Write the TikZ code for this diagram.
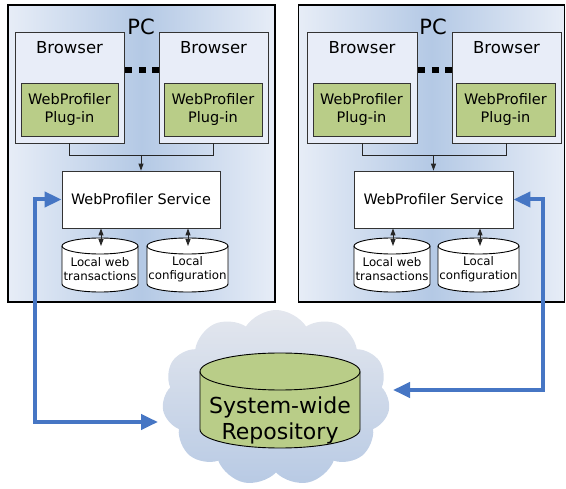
\documentclass[tikz,border=0pt]{standalone}
\usepackage{fontspec}
\setmainfont{DejaVu Sans}
\usetikzlibrary{arrows.meta,shapes.symbols}
\definecolor{pcedge}{RGB}{231,237,247}
\definecolor{pcmid}{RGB}{180,201,229}
\definecolor{brfill}{RGB}{232,237,248}
\definecolor{plug}{RGB}{185,205,136}
\definecolor{blu}{RGB}{70,118,196}
\definecolor{cloudtop}{RGB}{228,231,238}
\definecolor{cloudbot}{RGB}{184,202,228}
\newcommand\drawcyl[6]{%
 \filldraw[fill=#6, line width=0.9pt] (#1,#3+#5) -- (#1,#4-#5)
   arc[start angle=180,end angle=0,x radius={(#2-#1)/2},y radius=#5] -- (#2,#3+#5)
   arc[start angle=0,end angle=-180,x radius={(#2-#1)/2},y radius=#5] -- cycle;
 \draw[line width=0.9pt] (#1,#3+#5) arc[start angle=180,end angle=0,x radius={(#2-#1)/2},y radius=#5];}
\tikzset{
  pcbox/.style={draw=black, line width=1.6pt, left color=pcedge, right color=pcedge, middle color=pcmid, inner sep=0pt},
  brbox/.style={draw=black!80, line width=0.8pt, fill=brfill, inner sep=0pt},
  plugbox/.style={draw=black!80, line width=0.8pt, fill=plug, align=center, inner sep=0pt, font=\fontsize{14.5}{18}\selectfont},
  svcbox/.style={draw=black!80, line width=0.8pt, fill=white, inner sep=0pt, font=\fontsize{14.4}{17}\selectfont},
  brlabel/.style={inner sep=0pt, font=\fontsize{16.5}{19}\selectfont},
  pclabel/.style={inner sep=0pt, font=\fontsize{21}{24}\selectfont},
  cyltext/.style={inner sep=0pt, align=center, font=\fontsize{11.8}{14.5}\selectfont},
  repotext/.style={inner sep=0pt, align=center, font=\fontsize{22}{26}\selectfont},
  conn/.style={draw=black!85, line width=0.9pt},
  tipconn/.style={conn, -{Triangle[length=7pt,width=5pt]}},
  dbl/.style={conn, {Triangle[length=7pt,width=5pt]}-{Triangle[length=7pt,width=5pt]}},
  dots/.style={line width=6.5pt, dash pattern=on 7pt off 6.5pt},
  bluelink/.style={draw=blu, line width=4pt, {Triangle[length=17pt,width=15pt]}-{Triangle[length=17pt,width=15pt]}},
}
\begin{document}
\begin{tikzpicture}[x=1pt,y=-1pt]
\useasboundingbox (0,0) rectangle (566,489);
% ---- PC boxes
\node[pcbox, minimum width=267pt, minimum height=297pt] (pc1) at (141.5,153.5) {};
\node[pcbox, minimum width=266pt, minimum height=297pt] (pc2) at (431.5,153.5) {};
\node[pclabel] (pc1t) at (141,27) {PC};
\node[pclabel] (pc2t) at (433,27) {PC};
% ---- browsers left PC
\node[brbox, minimum width=109pt, minimum height=111pt] (b11) at (69.5,87.5) {};
\node[brbox, minimum width=109pt, minimum height=111pt] (b12) at (213.5,87.5) {};
\node[brlabel] (b11t) at (69.5,48) {Browser};
\node[brlabel] (b12t) at (213.5,48) {Browser};
\node[plugbox, minimum width=97pt, minimum height=53pt] (p11) at (69.5,109.5) {WebProfiler\\Plug-in};
\node[plugbox, minimum width=98pt, minimum height=53pt] (p12) at (213,109.5) {WebProfiler\\Plug-in};
% ---- browsers right PC
\node[brbox, minimum width=110pt, minimum height=111pt] (b21) at (362,87.5) {};
\node[brbox, minimum width=109pt, minimum height=111pt] (b22) at (506.5,87.5) {};
\node[brlabel] (b21t) at (362,48) {Browser};
\node[brlabel] (b22t) at (506.5,48) {Browser};
\node[plugbox, minimum width=97pt, minimum height=53pt] (p21) at (361.5,109.5) {WebProfiler\\Plug-in};
\node[plugbox, minimum width=99pt, minimum height=53pt] (p22) at (505.5,109.5) {WebProfiler\\Plug-in};
% ---- dots
\draw[dots] ([xshift=1pt]b11.east |- 0,70) -- (b12.west |- 0,70);
\draw[dots] ([xshift=1pt]b21.east |- 0,70) -- (b22.west |- 0,70);
% ---- services
\node[svcbox, minimum width=158pt, minimum height=57pt] (s1) at (141,199.5) {WebProfiler Service};
\node[svcbox, minimum width=159pt, minimum height=57pt] (s2) at (433.5,199.5) {WebProfiler Service};
% ---- browser to service connectors
\draw[conn] (b11.south) -- (b11.south |- 0,155) -- (b12.south |- 0,155) -- (b12.south);
\draw[tipconn] (s1.north |- 0,155) -- (s1.north);
\draw[conn] (b21.south) -- (b21.south |- 0,155) -- (b22.south |- 0,155) -- (b22.south);
\draw[tipconn] (s2.north |- 0,155) -- (s2.north);
% ---- local cylinders
\drawcyl{62}{138}{238}{292}{8}{white}
\drawcyl{147}{228}{238}{292}{8}{white}
\drawcyl{354}{430}{238}{292}{8}{white}
\drawcyl{438}{519}{238}{292}{8}{white}
\node[cyltext] (c11) at (100,269) {Local web\\transactions};
\node[cyltext] (c12) at (187.5,269) {Local\\configuration};
\node[cyltext] (c21) at (392,269) {Local web\\transactions};
\node[cyltext] (c22) at (478.5,269) {Local\\configuration};
\coordinate (c11top) at (101,246);
\coordinate (c12top) at (188,246);
\coordinate (c21top) at (393,246);
\coordinate (c22top) at (480,246);
\draw[dbl] (c11top |- s1.south) -- (c11top);
\draw[dbl] (c12top |- s1.south) -- (c12top);
\draw[dbl] (c21top |- s2.south) -- (c21top);
\draw[dbl] (c22top |- s2.south) -- (c22top);
% ---- cloud and repository
\node[cloud, cloud puffs=11, cloud puff arc=115, aspect=1.35, minimum width=228pt, minimum height=176pt, top color=cloudtop, bottom color=cloudbot, draw=none] (cloud) at (276,398) {};
\drawcyl{200}{360}{353}{448}{18.5}{plug}
\node[repotext] (repo) at (280,420) {System-wide\\Repository};
% ---- blue links
\coordinate (lc) at (35,422);
\coordinate (lend) at (158,422);
\coordinate (rc) at (543,390);
\coordinate (rend) at (393,390);
\draw[bluelink] (s1.west) -| (lc) -- (lend);
\draw[bluelink] (s2.east) -| (rc) -- (rend);
\end{tikzpicture}
\end{document}
